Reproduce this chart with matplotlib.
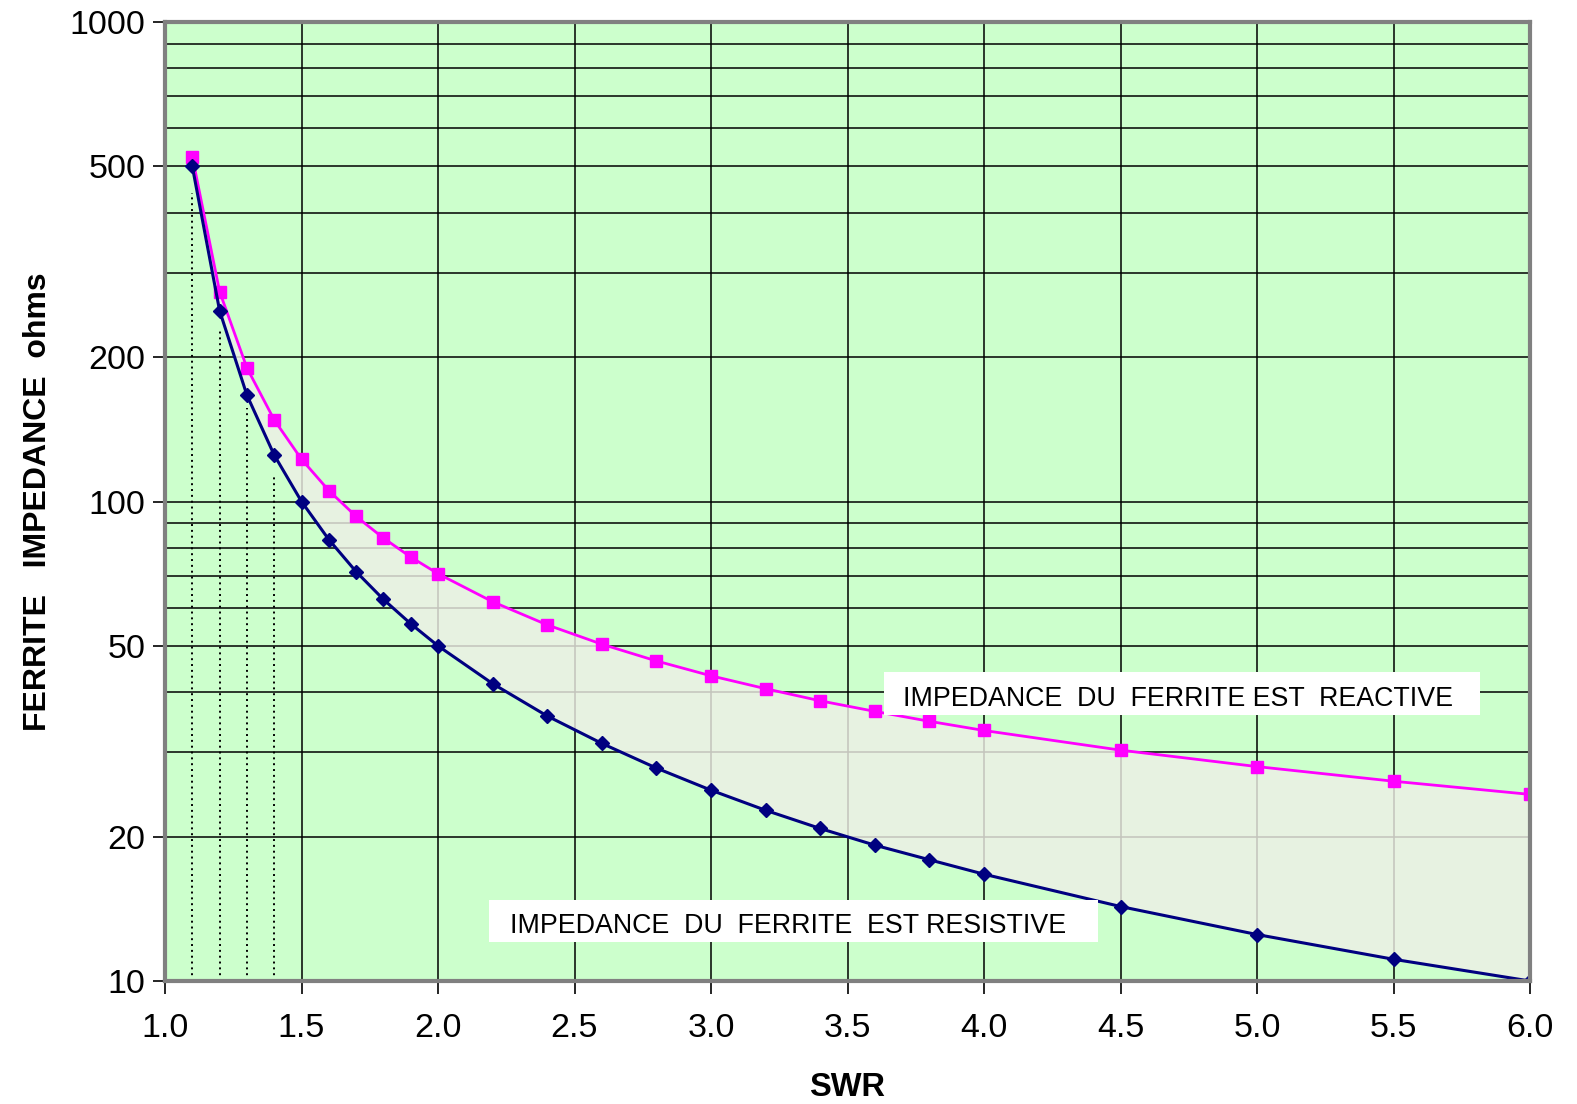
import matplotlib.pyplot as plt
from matplotlib.patches import Rectangle
from matplotlib.ticker import FixedLocator, NullFormatter, NullLocator

plt.rcParams['font.family'] = ['Liberation Sans', 'DejaVu Sans']

# data
swr = [1.1, 1.2, 1.3, 1.4, 1.5, 1.6, 1.7, 1.8, 1.9, 2.0, 2.2, 2.4, 2.6, 2.8,
       3.0, 3.2, 3.4, 3.6, 3.8, 4.0, 4.5, 5.0, 5.5, 6.0]
resistive = [500, 250, 166.7, 125, 100, 83.3, 71.4, 62.5, 55.6, 50, 41.7, 35.7,
             31.3, 27.8, 25, 22.7, 20.8, 19.2, 17.9, 16.7, 14.3, 12.5, 11.1, 10]
reactive = [524, 274, 190, 148, 122.5, 105.4, 93.1, 83.9, 76.6, 70.7, 61.8, 55.3,
            50.4, 46.5, 43.3, 40.7, 38.4, 36.5, 34.8, 33.3, 30.3, 28.0, 26.1, 24.5]

drop_x = [1.1, 1.2, 1.3, 1.4]
drop_top = [440, 228, 157, 114]

y_labels = [10, 20, 50, 100, 200, 500, 1000]
x_labels = [1.0, 1.5, 2.0, 2.5, 3.0, 3.5, 4.0, 4.5, 5.0, 5.5, 6.0]
grid_y = [v * d for d in (10, 100) for v in range(1, 10)] + [1000]

W, H = 1577, 1104
fig = plt.figure(figsize=(W / 100, H / 100), dpi=100)
ax = fig.add_axes([165 / W, 1 - 981 / H, (1530 - 165) / W, (981 - 22) / H])
ax.set_facecolor('#CCFFCC')

ax.set_yscale('log')
ax.set_xlim(1.0, 6.0)
ax.set_ylim(10, 1000)

# grid
for g in grid_y:
    ax.axhline(g, color='black', lw=1.1, zorder=1)
for gx in x_labels:
    ax.axvline(gx, color='black', lw=1.1, zorder=1)

# shaded band between the two curves
ax.fill_between(swr, resistive, reactive, color='#EEF0E6', alpha=0.82, lw=0, zorder=2)

# dotted drop lines
for dx, dt in zip(drop_x, drop_top):
    ax.plot([dx, dx], [10, dt], color='black', ls=(0, (1, 2)), lw=1.4, zorder=3)

ax.plot(swr, reactive, color='#FF00FF', lw=2, marker='s', ms=9,
        mec='#FF00FF', mfc='#FF00FF', zorder=4)
ax.plot(swr, resistive, color='#000080', lw=2.2, marker='D', ms=7.5,
        mec='#000080', mfc='#000080', zorder=5)

ax.yaxis.set_major_locator(FixedLocator(y_labels))
ax.yaxis.set_minor_locator(NullLocator())
ax.yaxis.set_minor_formatter(NullFormatter())
ax.set_yticklabels([str(v) for v in y_labels])
ax.set_xticks(x_labels)
ax.set_xticklabels(['%.1f' % v for v in x_labels])
ax.tick_params(axis='both', labelsize=24.5, length=9, width=1.2, direction='out', color='black')
ax.tick_params(axis='x', pad=14)
ax.tick_params(axis='y', pad=5)

for s in ax.spines.values():
    s.set_color('#808080')
    s.set_linewidth(3)
    s.set_zorder(6)

ax.set_xlabel('SWR', fontsize=23.5, fontweight='bold', labelpad=20)
ax.set_ylabel('FERRITE   IMPEDANCE  ohms', fontsize=23, fontweight='bold', labelpad=12)

# white label boxes
for x0, y0, x1, y1 in [(884, 672, 1480, 715), (489, 900, 1098, 942)]:
    fig.patches.append(Rectangle((x0 / W, 1 - y1 / H), (x1 - x0) / W, (y1 - y0) / H,
                                 transform=fig.transFigure, fc='white', ec='none', zorder=7))
fig.text(903 / W, 1 - 699 / H, 'IMPEDANCE  DU  FERRITE EST  REACTIVE',
         fontsize=19.3, va='center', ha='left', zorder=8)
fig.text(510 / W, 1 - 926 / H, 'IMPEDANCE  DU  FERRITE  EST RESISTIVE',
         fontsize=19.3, va='center', ha='left', zorder=8)

fig.savefig('out.png', dpi=100)
